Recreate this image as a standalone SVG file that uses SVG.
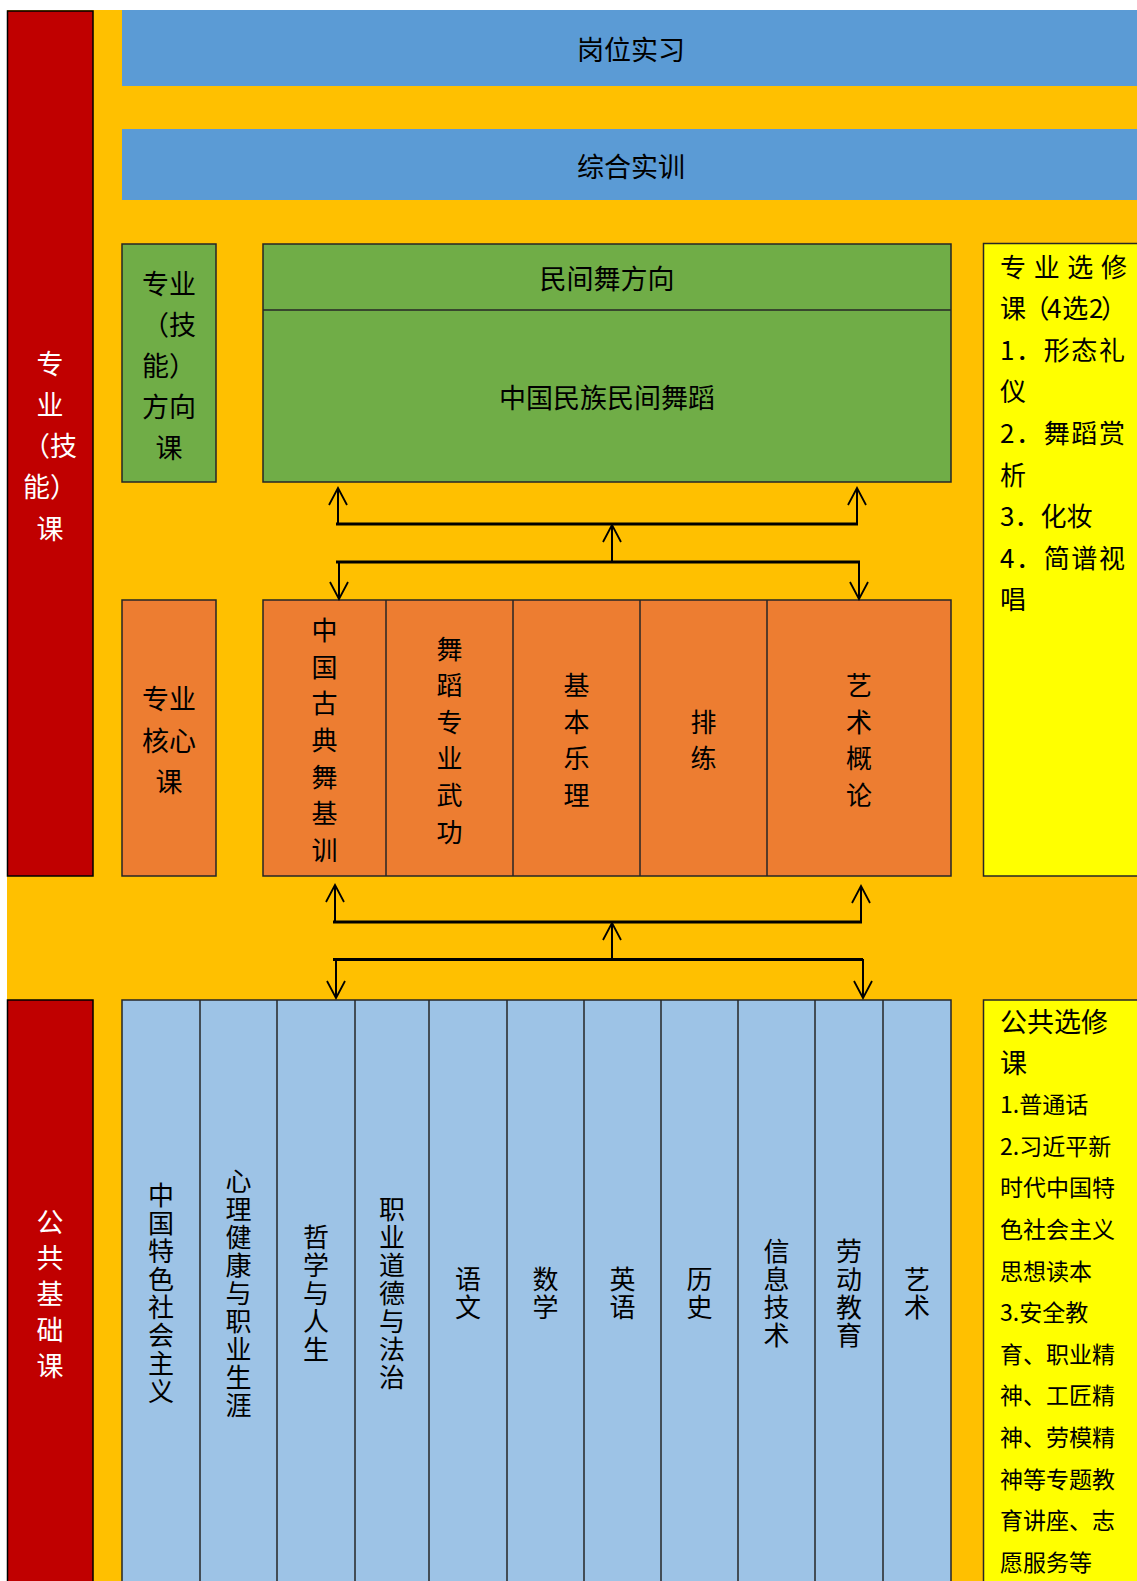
<svg xmlns="http://www.w3.org/2000/svg" width="1137" height="1581" viewBox="0 0 1137 1581">
<style>
.t{font-family:"Noto Sans CJK SC","Noto Sans",sans-serif;font-size:27px;fill:#000;text-anchor:middle;dominant-baseline:central}
.v{font-family:"Noto Sans CJK SC","Noto Sans",sans-serif;font-size:26px;fill:#000;text-anchor:middle;writing-mode:vertical-rl;letter-spacing:1.9px}
.s26{font-size:26px}
.s23{font-size:23px}
.w{fill:#fff}
.l{text-anchor:start}
.box{stroke:#262626;stroke-width:1.5}
.red{fill:#C00000;stroke:#000;stroke-width:1.5}
.grn{fill:#70AD47}
.org{fill:#ED7D31}
.lb{fill:#9DC3E6}
.yel{fill:#FFFF00}
.bar{fill:#5B9BD5}
.div{stroke:#262626;stroke-width:1.5}
.ar{stroke:#000;stroke-width:2;fill:none;marker-end:url(#ah)}
.hl{stroke:#000;stroke-width:3}
</style>
<defs>
<marker id="ah" viewBox="0 0 20 20" refX="18" refY="10" markerWidth="20" markerHeight="20" markerUnits="userSpaceOnUse" orient="auto"><path d="M1,1 L18,10 L1,19" fill="none" stroke="#000" stroke-width="1.8"/></marker>
</defs>
<rect width="1137" height="1581" fill="#fff"/>
<rect id="background" x="7" y="10" width="1130" height="1571" fill="#FFC000"/>

<g id="zhuanye-jineng-ke">
<rect class="red" x="7.5" y="11" width="85.5" height="865"/>
<text class="t w"><tspan x="50" y="362">专</tspan><tspan x="50" y="403">业</tspan><tspan x="50" y="444">（技</tspan><tspan x="50" y="485">能）</tspan><tspan x="50" y="527">课</tspan></text>
</g>
<g id="gonggong-jichu-ke">
<rect class="red" x="7.5" y="1000" width="85.5" height="600"/>
<text class="t w"><tspan x="50" y="1220">公</tspan><tspan x="50" y="1256">共</tspan><tspan x="50" y="1292">基</tspan><tspan x="50" y="1328">础</tspan><tspan x="50" y="1364">课</tspan></text>
</g>

<g id="gangwei-shixi">
<rect class="bar" x="122" y="10" width="1015" height="76"/>
<text class="t" x="631" y="48">岗位实习</text>
</g>
<g id="zonghe-shixun">
<rect class="bar" x="122" y="129" width="1015" height="71"/>
<text class="t" x="631" y="165">综合实训</text>
</g>

<g id="fangxiang-ke">
<rect class="grn box" x="122" y="244" width="94" height="238"/>
<text class="t"><tspan x="169" y="282">专业</tspan><tspan x="169" y="323">（技</tspan><tspan x="169" y="364">能）</tspan><tspan x="169" y="405">方向</tspan><tspan x="169" y="446">课</tspan></text>
</g>
<g id="minjianwu">
<rect class="grn box" x="263" y="244" width="688" height="238"/>
<line class="div" x1="263" y1="310" x2="951" y2="310"/>
<text class="t" x="607" y="277">民间舞方向</text>
<text class="t" x="607" y="396">中国民族民间舞蹈</text>
</g>

<g id="zhuanye-xuanxiu">
<rect class="yel box" x="983.5" y="243.5" width="170" height="632.5"/>
<text class="t l s26" x="1000" y="265" textLength="127" lengthAdjust="spacing">专业选修</text>
<text class="t l s26" x="1000" y="306.6" textLength="127" lengthAdjust="spacing">课（4 选 2）</text>
<text class="t l s26" x="1000" y="348.2" textLength="125" lengthAdjust="spacing">1．形态礼</text>
<text class="t l s26" x="1000" y="389.8">仪</text>
<text class="t l s26" x="1000" y="431.4" textLength="125" lengthAdjust="spacing">2．舞蹈赏</text>
<text class="t l s26" x="1000" y="473">析</text>
<text class="t l s26" x="1000" y="514.6">3．化妆</text>
<text class="t l s26" x="1000" y="556.2" textLength="125" lengthAdjust="spacing">4．简谱视</text>
<text class="t l s26" x="1000" y="597.8">唱</text>
</g>

<g id="hexin-ke">
<rect class="org box" x="122" y="600" width="94" height="276"/>
<text class="t"><tspan x="169" y="697">专业</tspan><tspan x="169" y="739">核心</tspan><tspan x="169" y="780">课</tspan></text>
</g>
<g id="hexin-courses">
<rect class="org box" x="263" y="600" width="688" height="276"/>
<line class="div" x1="386" y1="600" x2="386" y2="876"/>
<line class="div" x1="513" y1="600" x2="513" y2="876"/>
<line class="div" x1="640" y1="600" x2="640" y2="876"/>
<line class="div" x1="767" y1="600" x2="767" y2="876"/>
<text class="t s26"><tspan x="324.5" y="628.2">中</tspan><tspan x="324.5" y="664.8">国</tspan><tspan x="324.5" y="701.4">古</tspan><tspan x="324.5" y="738">典</tspan><tspan x="324.5" y="774.6">舞</tspan><tspan x="324.5" y="811.2">基</tspan><tspan x="324.5" y="847.8">训</tspan></text>
<text class="t s26"><tspan x="449.5" y="646.5">舞</tspan><tspan x="449.5" y="683.1">蹈</tspan><tspan x="449.5" y="719.7">专</tspan><tspan x="449.5" y="756.3">业</tspan><tspan x="449.5" y="792.9">武</tspan><tspan x="449.5" y="829.5">功</tspan></text>
<text class="t s26"><tspan x="576.5" y="683.1">基</tspan><tspan x="576.5" y="719.7">本</tspan><tspan x="576.5" y="756.3">乐</tspan><tspan x="576.5" y="792.9">理</tspan></text>
<text class="t s26"><tspan x="703.5" y="719.7">排</tspan><tspan x="703.5" y="756.3">练</tspan></text>
<text class="t s26"><tspan x="859" y="683.1">艺</tspan><tspan x="859" y="719.7">术</tspan><tspan x="859" y="756.3">概</tspan><tspan x="859" y="792.9">论</tspan></text>
</g>

<g id="gonggong-courses">
<rect class="lb box" x="122" y="1000" width="829" height="600"/>
<line class="div" x1="200" y1="1000" x2="200" y2="1600"/>
<line class="div" x1="277" y1="1000" x2="277" y2="1600"/>
<line class="div" x1="355" y1="1000" x2="355" y2="1600"/>
<line class="div" x1="429" y1="1000" x2="429" y2="1600"/>
<line class="div" x1="507" y1="1000" x2="507" y2="1600"/>
<line class="div" x1="584" y1="1000" x2="584" y2="1600"/>
<line class="div" x1="661" y1="1000" x2="661" y2="1600"/>
<line class="div" x1="738" y1="1000" x2="738" y2="1600"/>
<line class="div" x1="815" y1="1000" x2="815" y2="1600"/>
<line class="div" x1="883" y1="1000" x2="883" y2="1600"/>
<text class="v" x="161" y="1294">中国特色社会主义</text>
<text class="v" x="238.5" y="1294">心理健康与职业生涯</text>
<text class="v" x="316" y="1294">哲学与人生</text>
<text class="v" x="392" y="1294">职业道德与法治</text>
<text class="v" x="468" y="1294">语文</text>
<text class="v" x="545.5" y="1294">数学</text>
<text class="v" x="622.5" y="1294">英语</text>
<text class="v" x="699.5" y="1294">历史</text>
<text class="v" x="776.5" y="1294">信息技术</text>
<text class="v" x="849" y="1294">劳动教育</text>
<text class="v" x="917" y="1294">艺术</text>
</g>

<g id="gonggong-xuanxiu">
<rect class="yel box" x="983.5" y="1000" width="170" height="600"/>
<text class="t l" x="1000" y="1020">公共选修</text>
<text class="t l" x="1000" y="1061.6">课</text>
<text class="t l s23" x="1000" y="1103.2">1.普通话</text>
<text class="t l s23" x="1000" y="1144.8">2.习近平新</text>
<text class="t l s23" x="1000" y="1186.4">时代中国特</text>
<text class="t l s23" x="1000" y="1228">色社会主义</text>
<text class="t l s23" x="1000" y="1269.6">思想读本</text>
<text class="t l s23" x="1000" y="1311.2">3.安全教</text>
<text class="t l s23" x="1000" y="1352.8">育、职业精</text>
<text class="t l s23" x="1000" y="1394.4">神、工匠精</text>
<text class="t l s23" x="1000" y="1436">神、劳模精</text>
<text class="t l s23" x="1000" y="1477.6">神等专题教</text>
<text class="t l s23" x="1000" y="1519.2">育讲座、志</text>
<text class="t l s23" x="1000" y="1560.8">愿服务等</text>
</g>

<g id="connectors">
<line class="ar" x1="338" y1="524" x2="338" y2="488"/>
<line class="ar" x1="857" y1="524" x2="857" y2="488"/>
<line class="hl" x1="336" y1="524" x2="858" y2="524"/>
<line class="ar" x1="612" y1="562" x2="612" y2="525"/>
<line class="hl" x1="336" y1="562" x2="860" y2="562"/>
<line class="ar" x1="339" y1="562" x2="339" y2="599"/>
<line class="ar" x1="859" y1="562" x2="859" y2="599"/>

<line class="ar" x1="335" y1="922" x2="335" y2="885"/>
<line class="ar" x1="861" y1="922" x2="861" y2="886"/>
<line class="hl" x1="333" y1="922" x2="862" y2="922"/>
<line class="ar" x1="612" y1="959" x2="612" y2="923"/>
<line class="hl" x1="333" y1="959.5" x2="863" y2="959.5"/>
<line class="ar" x1="336" y1="959" x2="336" y2="998"/>
<line class="ar" x1="863" y1="959" x2="863" y2="998"/>
</g>
</svg>
